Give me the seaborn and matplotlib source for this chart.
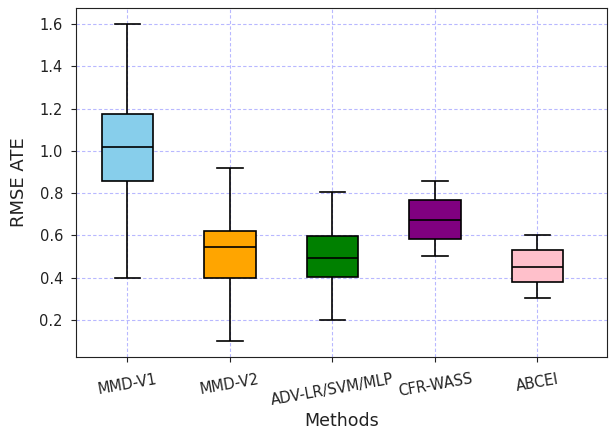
import numpy as np
import pandas as pd
import matplotlib
matplotlib.use("Agg")
import matplotlib.pyplot as plt
import seaborn as sns

methods = ["MMD-V1", "MMD-V2", "ADV-LR/SVM/MLP", "CFR-WASS", "ABCEI"]
colors = ["skyblue", "orange", "green", "purple", "pink"]
# five-number summaries: whisker low, Q1, median, Q3, whisker high
low = [0.40, 0.10, 0.20, 0.50, 0.305]
q1 = [0.857, 0.397, 0.402, 0.585, 0.379]
med = [1.018, 0.545, 0.493, 0.674, 0.448]
q3 = [1.174, 0.621, 0.598, 0.765, 0.532]
high = [1.60, 0.92, 0.803, 0.858, 0.60]

rows = []
for i, m in enumerate(methods):
    for v in (low[i], q1[i], med[i], q3[i], high[i]):
        rows.append({"Methods": m, "RMSE ATE": v})
df = pd.DataFrame(rows)

fig = plt.figure(figsize=(6.09, 4.32), dpi=100)
ax = fig.add_axes([0.125, 0.174, 0.872, 0.807])
sns.boxplot(data=df, x="Methods", y="RMSE ATE", hue="Methods", palette=colors,
            legend=False, whis=np.inf, width=0.5, linecolor="black",
            linewidth=1.2, saturation=1, ax=ax)
ax.grid(True, color="#b8b8ff", linestyle=(0, (3, 2)), linewidth=0.8)
ax.set_axisbelow(True)
ax.set_xlim(-0.5, 4.68)
ax.set_ylim(0.025, 1.675)
ax.set_yticks([0.2, 0.4, 0.6, 0.8, 1.0, 1.2, 1.4, 1.6])
ax.tick_params(axis="x", labelrotation=10, labelsize=10.5, pad=7, colors="#222222")
ax.tick_params(axis="y", labelsize=10.5, pad=6, colors="#222222")
for s in ax.spines.values():
    s.set_color("#222222")
ax.set_xlabel("Methods", fontsize=12.5, labelpad=3, color="#222222")
ax.set_ylabel("RMSE ATE", fontsize=13, labelpad=8, color="#222222")
fig.savefig("out.png", dpi=100)
